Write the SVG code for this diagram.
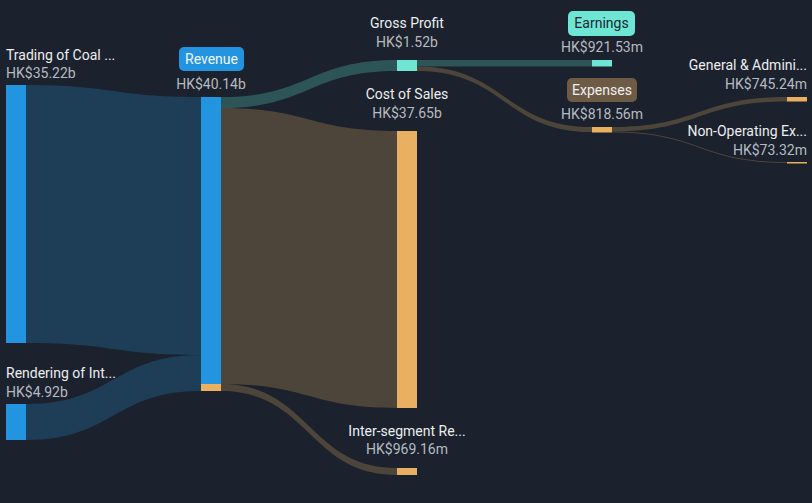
<svg xmlns="http://www.w3.org/2000/svg" width="812" height="503" viewBox="0 0 812 503">
<style>
.bg{fill:#1b212d}
.fb{fill:#1e3e58}
.ft{fill:#2d5457}
.fo{fill:#4d4539}
.nb{fill:#2394e0}
.nt{fill:#6ee6d3}
.no{fill:#e8b060}
text{font-family:Roboto,"Liberation Sans",sans-serif;font-size:14px}
.nm{fill:#eceef0}
.vl{fill:#b6bbc1}
.c{text-anchor:middle}
.r{text-anchor:end}
</style>
<rect class="bg" x="0" y="0" width="812" height="503"/>
<g id="connectors">
<path class="fb" d="M26,85 C113.5,85 113.5,97 201,97 L201,355 C113.5,355 113.5,343 26,343 Z"/>
<path class="fb" d="M26,404 C113.5,404 113.5,355 201,355 L201,391 C113.5,391 113.5,440 26,440 Z"/>
<path class="ft" d="M221,97 C309,97 309,60 397,60 L397,71 C309,71 309,108 221,108 Z"/>
<path class="fo" d="M221,108 C309,108 309,131 397,131 L397,408 C309,408 309,384 221,384 Z"/>
<path class="fo" d="M221,384 C309,384 309,468 397,468 L397,475 C309,475 309,391 221,391 Z"/>
<path class="ft" d="M417,60 L592,60 L592,66.5 L417,66.5 Z"/>
<path class="fo" d="M417,66.5 C504.5,66.5 504.5,127 592,127 L592,132 C504.5,132 504.5,71 417,71 Z"/>
<path class="fo" d="M612,127 C699.5,127 699.5,97 787,97 L787,101.5 C699.5,101.5 699.5,131.5 612,131.5 Z"/>
<path class="fo" d="M612,131.5 C699.5,131.5 699.5,162 787,162 L787,163 C699.5,163 699.5,132.5 612,132.5 Z"/>
</g>
<g id="trading">
<rect class="nb" x="6" y="85" width="20" height="258"/>
<text class="nm" x="6" y="60">Trading of Coal ...</text>
<text class="vl" x="6" y="78">HK$35.22b</text>
</g>
<g id="rendering">
<rect class="nb" x="6" y="404" width="20" height="36"/>
<text class="nm" x="6" y="378">Rendering of Int...</text>
<text class="vl" x="6" y="397">HK$4.92b</text>
</g>
<g id="revenue">
<rect class="nb" x="201" y="97" width="20" height="287"/>
<rect class="no" x="201" y="384" width="20" height="7"/>
<rect fill="#2394e0" x="179" y="47" width="65" height="24" rx="5"/>
<text class="c" fill="#f2f6fa" x="211.5" y="64">Revenue</text>
<text class="vl c" x="211" y="89">HK$40.14b</text>
</g>
<g id="gross-profit">
<rect class="nt" x="397" y="60" width="20" height="11"/>
<text class="nm c" x="407" y="28">Gross Profit</text>
<text class="vl c" x="407" y="47">HK$1.52b</text>
</g>
<g id="cost-of-sales">
<rect class="no" x="397" y="131" width="20" height="277"/>
<text class="nm c" x="407" y="99">Cost of Sales</text>
<text class="vl c" x="407" y="118">HK$37.65b</text>
</g>
<g id="inter-segment">
<rect class="no" x="397" y="468" width="20" height="7"/>
<text class="nm c" x="407" y="436">Inter-segment Re...</text>
<text class="vl c" x="407" y="454">HK$969.16m</text>
</g>
<g id="earnings">
<rect class="nt" x="592" y="60" width="20" height="6.5"/>
<rect fill="#6ee6d3" x="568" y="11" width="67" height="25" rx="5"/>
<text class="c" fill="#1c2530" x="601.5" y="28">Earnings</text>
<text class="vl c" x="602" y="52">HK$921.53m</text>
</g>
<g id="expenses">
<rect class="no" x="592" y="127" width="20" height="5.5"/>
<rect fill="#6e5b45" x="567" y="78" width="70" height="24" rx="5"/>
<text class="c" fill="#eef0f2" x="602" y="95">Expenses</text>
<text class="vl c" x="602" y="119">HK$818.56m</text>
</g>
<g id="general-admin">
<rect class="no" x="787" y="97" width="20" height="4.5"/>
<text class="nm r" x="807" y="70">General &amp; Admini...</text>
<text class="vl r" x="807" y="89">HK$745.24m</text>
</g>
<g id="non-operating">
<rect class="no" x="787" y="162" width="20" height="1.5"/>
<text class="nm r" x="807" y="136">Non-Operating Ex...</text>
<text class="vl r" x="807" y="155">HK$73.32m</text>
</g>
</svg>
